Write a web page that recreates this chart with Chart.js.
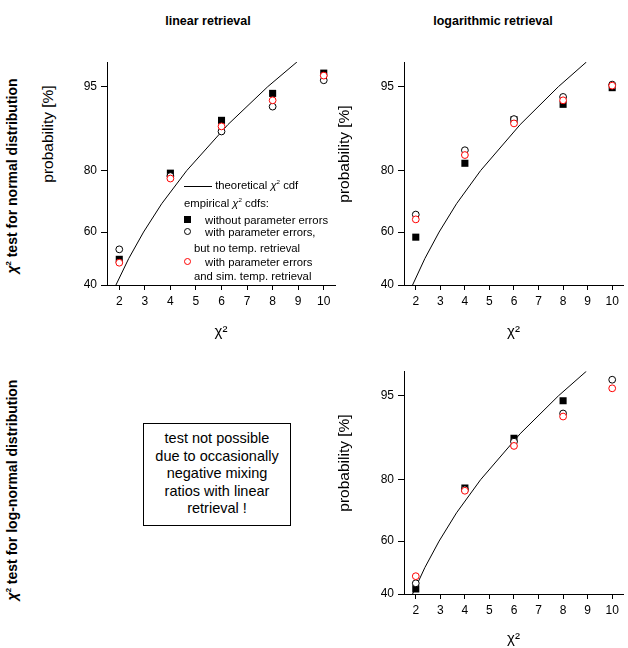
<!DOCTYPE html>
<html lang="en">
<head>
    <meta charset="UTF-8">
    <title>Chi-square test probability plots</title>
    <script src="https://cdn.jsdelivr.net/npm/chart.js"></script>
    <style>
        body { margin: 0; width: 628px; height: 648px; position: relative; overflow: hidden; background: #fff;
               font-family: "Liberation Sans", Arial, sans-serif; color: #000; }
        .panel { position: absolute; }
        .coltitle { position: absolute; top: 14px; font-weight: bold; font-size: 12.5px; transform: translateX(-50%); white-space: nowrap; }
        .rowtitle { position: absolute; font-weight: bold; font-size: 14px; white-space: nowrap;
                    transform: translate(-50%, -50%) rotate(-90deg); }
        .ytitle { position: absolute; font-size: 15.5px; white-space: nowrap; transform: translate(-50%, -50%) rotate(-90deg); }
        sup { font-size: 0.55em; vertical-align: 0.75em; line-height: 0; }
        .legend { position: absolute; left: 180px; top: 170px; width: 160px; height: 115px; font-size: 11.3px; }
        .legend div { position: absolute; white-space: nowrap; line-height: 14px; }
        .mk { position: absolute; box-sizing: border-box; }
        .note { position: absolute; left: 143px; top: 423px; width: 148px; height: 103px; box-sizing: border-box;
                border: 1px solid #000; text-align: center; font-size: 14.5px; line-height: 17.5px; padding-top: 6px; }
    </style>
</head>
<body>
    <div class="coltitle" style="left:208px">linear retrieval</div>
    <div class="coltitle" style="left:493px">logarithmic retrieval</div>

    <div class="rowtitle" style="left:12px; top:176px"><i>χ</i><sup>2</sup> test for normal distribution</div>
    <div class="rowtitle" style="left:12px; top:490px"><i>χ</i><sup>2</sup> test for log-normal distribution</div>

    <!-- top left: linear retrieval -->
    <div class="panel" style="left:60px; top:50px"><canvas id="linNorm" width="280" height="310"></canvas></div>
    <!-- top right: logarithmic retrieval -->
    <div class="panel" style="left:340px; top:50px"><canvas id="logNorm" width="288" height="310"></canvas></div>
    <!-- bottom right: logarithmic retrieval, log-normal -->
    <div class="panel" style="left:340px; top:360px"><canvas id="logLog" width="288" height="288"></canvas></div>

    <div class="ytitle" style="left:48px; top:134px">probability [%]</div>
    <div class="ytitle" style="left:344px; top:154px">probability [%]</div>
    <div class="ytitle" style="left:344px; top:463px">probability [%]</div>

    <div class="legend">
        <div style="left:4px; top:8px"><span style="display:inline-block; width:28px; border-top:1px solid #000; vertical-align:middle"></span> theoretical <i>χ</i><sup>2</sup> cdf</div>
        <div style="left:4px; top:26px">empirical <i>χ</i><sup>2</sup> cdfs:</div>
        <span class="mk" style="left:4px; top:46px; width:7px; height:7px; background:#000"></span>
        <div style="left:25px; top:43px">without parameter errors</div>
        <span class="mk" style="left:4px; top:58px; width:7px; height:7px; border:1px solid #000; border-radius:50%"></span>
        <div style="left:25px; top:55px">with parameter errors,</div>
        <div style="left:14px; top:71px">but no temp. retrieval</div>
        <span class="mk" style="left:4px; top:88px; width:7px; height:7px; border:1px solid #f00; border-radius:50%"></span>
        <div style="left:25px; top:85px">with parameter errors</div>
        <div style="left:14px; top:99px">and sim. temp. retrieval</div>
    </div>

    <div class="note">test not possible<br>due to occasionally<br>negative mixing<br>ratios with linear<br>retrieval !</div>

    <script>
        // axis ticks
        const chiTicks = [2, 3, 4, 5, 6, 7, 8, 9, 10];
        const probTicks = [40, 60, 80, 95];

        // theoretical chi2 cdf (chi2 value, probability %)
        const theoChi = [1.87, 2.37, 2.95, 3.66, 4.64, 6.25, 7.81, 8.95];
        const theoProb = [40, 50, 60, 70, 80, 90, 95, 97];

        // empirical cdfs, probability % at chi2 = 2, 4, 6, 8, 10
        const chiPoints = [2, 4, 6, 8, 10];
        const linNormNoErr = [49.7, 79.3, 90.7, 94.3, 96.2];
        const linNormErr = [53.5, 78.5, 88.8, 92.7, 95.6];
        const linNormErrTemp = [48.4, 77.8, 89.7, 93.5, 96.0];

        const logNormNoErr = [58.1, 81.9, 90.8, 93.0, 94.9];
        const logNormErr = [66.3, 85.0, 90.9, 93.9, 95.2];
        const logNormErrTemp = [64.6, 83.9, 90.2, 93.5, 95.1];

        const logLogNoErr = [41.9, 77.7, 89.2, 94.5, null];
        const logLogErr = [44.0, 77.3, 88.6, 93.0, 96.4];
        const logLogErrTemp = [46.7, 76.9, 87.8, 92.6, 95.7];

        // probability axis is a normal-quantile (probit) scale
        function probit(pct) {
            const p = pct / 100;
            const a = [-3.969683028665376e+01, 2.209460984245205e+02, -2.759285104469687e+02, 1.383577518672690e+02, -3.066479806614716e+01, 2.506628277459239e+00];
            const b = [-5.447609879822406e+01, 1.615858368580409e+02, -1.556989798598866e+02, 6.680131188771972e+01, -1.328068155288572e+01];
            const q = p - 0.5, r = q * q;
            return (((((a[0]*r + a[1])*r + a[2])*r + a[3])*r + a[4])*r + a[5]) * q /
                   (((((b[0]*r + b[1])*r + b[2])*r + b[3])*r + b[4])*r + 1);
        }

        Chart.defaults.font.family = '"Liberation Sans", Arial, sans-serif';
        Chart.defaults.color = '#000';

        function points(vals) {
            return chiPoints.map((x, i) => ({ x: x, y: vals[i] == null ? null : probit(vals[i]) }));
        }

        function makePanel(id, noErr, err, errTemp, padTop, yWidth, xHeight, titlePad) {
            return new Chart(document.getElementById(id), {
                type: 'scatter',
                data: {
                    datasets: [
                        {
                            label: 'theoretical',
                            data: theoChi.map((x, i) => ({ x: x, y: probit(theoProb[i]) })),
                            showLine: true, borderColor: '#000', borderWidth: 1, pointRadius: 0, order: 3
                        },
                        {
                            label: 'without parameter errors',
                            data: points(noErr),
                            pointStyle: 'rect', pointRadius: 5, backgroundColor: '#000', borderColor: '#000', borderWidth: 0, order: 2
                        },
                        {
                            label: 'with parameter errors, no temp. retrieval',
                            data: points(err),
                            pointStyle: 'circle', pointRadius: 3.4, backgroundColor: '#fff', borderColor: '#000', borderWidth: 1, order: 1
                        },
                        {
                            label: 'with parameter errors, sim. temp. retrieval',
                            data: points(errTemp),
                            pointStyle: 'circle', pointRadius: 3.4, backgroundColor: '#fff', borderColor: '#f00', borderWidth: 1, order: 0
                        }
                    ]
                },
                options: {
                    responsive: false,
                    animation: false,
                    layout: { padding: { top: padTop, right: 0, left: 0, bottom: 0 } },
                    plugins: { legend: { display: false }, tooltip: { enabled: false } },
                    scales: {
                        x: {
                            type: 'linear', min: 1.52, max: 10.44,
                            afterBuildTicks: s => { s.ticks = chiTicks.map(v => ({ value: v })); },
                            afterFit: s => { s.height = xHeight; },
                            grid: { drawOnChartArea: false, tickLength: 5, color: '#000', lineWidth: 1 },
                            border: { color: '#000', width: 1 },
                            ticks: { font: { size: 12 }, padding: 4, maxRotation: 0, autoSkip: false },
                            title: { display: true, text: 'χ²', font: { size: 15 }, padding: { top: 0, bottom: titlePad } }
                        },
                        y: {
                            type: 'linear', min: probit(40), max: probit(97),
                            afterBuildTicks: s => { s.ticks = probTicks.map(v => ({ value: probit(v) })); },
                            afterFit: s => { s.width = yWidth; },
                            grid: { drawOnChartArea: false, tickLength: 6, color: '#000', lineWidth: 1 },
                            border: { color: '#000', width: 1 },
                            ticks: { font: { size: 12 }, padding: 4, callback: (v, i) => probTicks[i] }
                        }
                    }
                }
            });
        }

        makePanel('linNorm', linNormNoErr, linNormErr, linNormErrTemp, 12, 47, 75, 19);
        makePanel('logNorm', logNormNoErr, logNormErr, logNormErrTemp, 12, 64, 75, 19);
        makePanel('logLog', logLogNoErr, logLogErr, logLogErrTemp, 11, 64, 54, 0);
    </script>
</body>
</html>
